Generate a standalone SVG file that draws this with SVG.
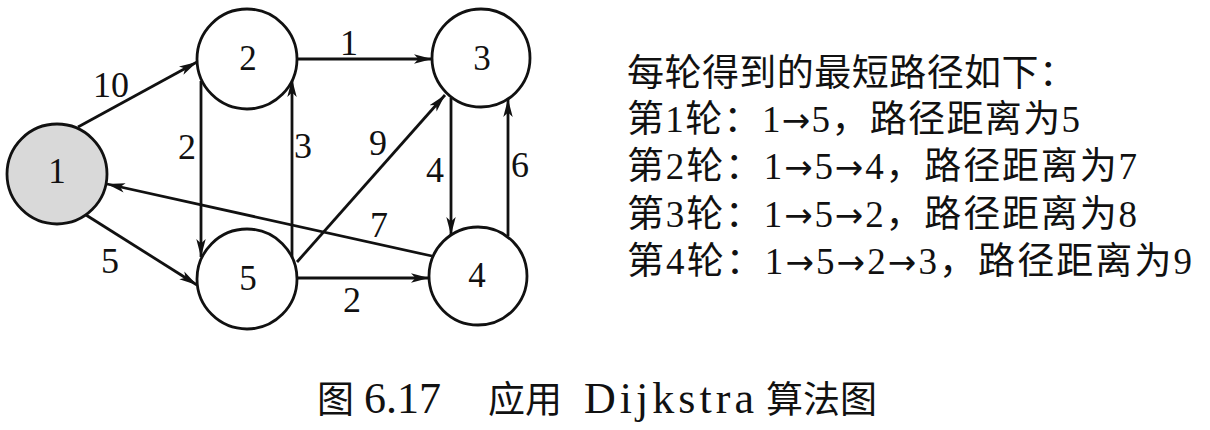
<svg xmlns="http://www.w3.org/2000/svg" width="1210" height="430" viewBox="0 0 1210 430">
<defs>
<marker id="arr" markerUnits="userSpaceOnUse" markerWidth="19" markerHeight="11" refX="18" refY="5.5" orient="auto">
<path d="M0,0.8 L18,5.5 L0,10.2 L4.5,5.5 z" fill="#111"/>
</marker>
<style>
.node{fill:#fff;stroke:#111;stroke-width:2.8}
.start{fill:#d9d9d9}
.nl{font-family:"Liberation Serif","Times New Roman",serif;font-size:35px;fill:#111;text-anchor:middle}
.el{font-family:"Liberation Serif","Times New Roman",serif;font-size:36px;fill:#111;text-anchor:middle}
.edge{stroke:#111;stroke-width:2.8;fill:none;marker-end:url(#arr)}
.txt{font-family:"Liberation Serif","Noto Sans CJK SC",serif;font-size:37px;fill:#111}
.ar{font-family:"DejaVu Sans",sans-serif;font-size:34px}
.cap{font-family:"Liberation Serif","Noto Sans CJK SC",serif;font-size:37px;fill:#111}
.capl{font-family:"Liberation Serif","Times New Roman",serif;font-size:44px;fill:#111}
</style>
</defs>
<rect width="1210" height="430" fill="#fff"/>
<g id="connectors">
<line class="edge" x1="78" y1="127" x2="197" y2="62"/>
<line class="edge" x1="86" y1="215" x2="197" y2="285"/>
<line class="edge" x1="297" y1="59" x2="432" y2="59"/>
<line class="edge" x1="201" y1="81" x2="201" y2="257"/>
<line class="edge" x1="292" y1="259" x2="292" y2="79"/>
<line class="edge" x1="297" y1="262" x2="445" y2="95"/>
<line class="edge" x1="451" y1="98" x2="451" y2="235"/>
<line class="edge" x1="508" y1="236" x2="508" y2="99"/>
<line class="edge" x1="432" y1="256" x2="107" y2="184"/>
<line class="edge" x1="297" y1="278" x2="429" y2="278"/>
<text class="el" x="111" y="97">10</text>
<text class="el" x="110" y="273">5</text>
<text class="el" x="349" y="55">1</text>
<text class="el" x="187" y="159">2</text>
<text class="el" x="303" y="158">3</text>
<text class="el" x="378" y="155">9</text>
<text class="el" x="435" y="182">4</text>
<text class="el" x="520" y="177">6</text>
<text class="el" x="379" y="237">7</text>
<text class="el" x="352" y="312">2</text>
</g>
<g id="node1"><circle class="node start" cx="57" cy="174" r="50"/><text class="nl" x="57" y="183">1</text></g>
<g id="node2"><circle class="node" cx="247" cy="59" r="50"/><text class="nl" x="248" y="70">2</text></g>
<g id="node3"><circle class="node" cx="481" cy="58" r="49"/><text class="nl" x="482" y="70">3</text></g>
<g id="node4"><circle class="node" cx="478" cy="276" r="49"/><text class="nl" x="477" y="287">4</text></g>
<g id="node5"><circle class="node" cx="247" cy="279" r="50"/><text class="nl" x="248" y="290">5</text></g>
<g id="results">
<text class="txt" x="627" y="86" textLength="449" lengthAdjust="spacing">每轮得到的最短路径如下：</text>
<text class="txt" x="627" y="132" textLength="453" lengthAdjust="spacing">第1轮：1<tspan class="ar">→</tspan>5，路径距离为5</text>
<text class="txt" x="627" y="179" textLength="510" lengthAdjust="spacing">第2轮：1<tspan class="ar">→</tspan>5<tspan class="ar">→</tspan>4，路径距离为7</text>
<text class="txt" x="627" y="227" textLength="510" lengthAdjust="spacing">第3轮：1<tspan class="ar">→</tspan>5<tspan class="ar">→</tspan>2，路径距离为8</text>
<text class="txt" x="627" y="274" textLength="565" lengthAdjust="spacing">第4轮：1<tspan class="ar">→</tspan>5<tspan class="ar">→</tspan>2<tspan class="ar">→</tspan>3，路径距离为9</text>
</g>
<g id="caption">
<text class="cap" x="317" y="413">图</text>
<text class="capl" x="364" y="413">6.17</text>
<text class="cap" x="488" y="413">应用</text>
<text class="capl" x="584" y="413" textLength="170" lengthAdjust="spacing">Dijkstra</text>
<text class="cap" x="766" y="413">算法图</text>
</g>
</svg>
